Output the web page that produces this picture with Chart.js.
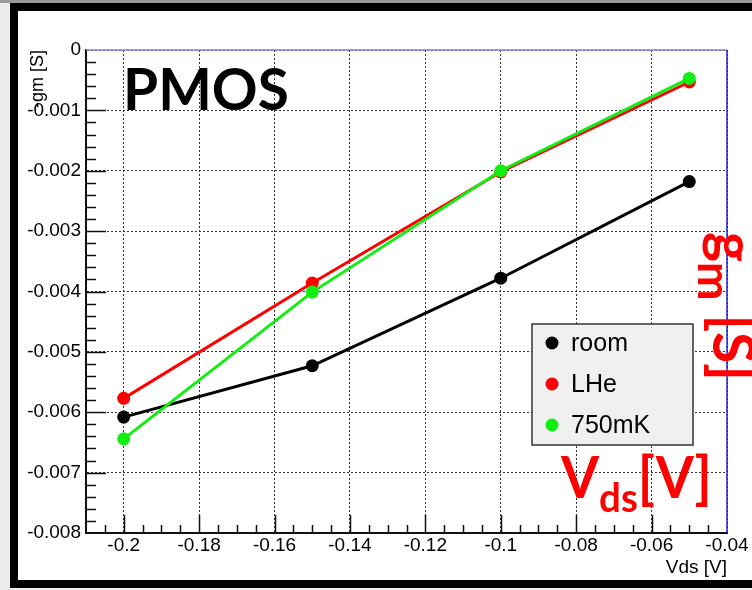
<!DOCTYPE html>
<html>
<head>
<meta charset="utf-8">
<title>PMOS gm vs Vds</title>
<script src="https://cdn.jsdelivr.net/npm/chart.js@4.4.1/dist/chart.umd.min.js"></script>
<style>
  html, body { margin: 0; padding: 0; background: #fff; }
  #wrap { position: relative; width: 752px; height: 590px; overflow: hidden; background: #ececec; }
  #shade { position: absolute; left: 0; top: 0; width: 752px; height: 3px; background: #9a9a9a; }
  #frame { position: absolute; left: 10px; top: 3px; width: 800px; height: 569px; border: 8px solid #000; background: #fff; }
  #plot { position: absolute; left: 0; top: 0; }
</style>
</head>
<body>
<div id="wrap">
  <div id="shade"></div>
  <div id="frame"></div>
  <canvas id="plot" width="752" height="590"></canvas>
</div>
<script>
// measured gm (S) at each drain voltage
const vds = [-0.2, -0.15, -0.1, -0.05];
const gmRoom = [-0.00608, -0.00523, -0.00378, -0.00218];
const gmLHe = [-0.00577, -0.00386, -0.00202, -0.00053];
const gm750mK = [-0.00644, -0.00401, -0.00200, -0.00047];

const seriesNames = ['room', 'LHe', '750mK'];
const seriesColors = ['#000000', '#ff0000', '#11ee11'];

const xTickValues = [-0.2, -0.18, -0.16, -0.14, -0.12, -0.1, -0.08, -0.06, -0.04];
const xTickLabels = ['-0.2', '-0.18', '-0.16', '-0.14', '-0.12', '-0.1', '-0.08', '-0.06', '-0.04'];
const yTickValues = [0, -0.001, -0.002, -0.003, -0.004, -0.005, -0.006, -0.007, -0.008];
const yTickLabels = ['0', '-0.001', '-0.002', '-0.003', '-0.004', '-0.005', '-0.006', '-0.007', '-0.008'];

const datasets = [gmRoom, gmLHe, gm750mK].map((vals, i) => ({
  label: seriesNames[i],
  data: vds.map((x, k) => ({ x: x, y: vals[k] })),
  showLine: true,
  borderColor: seriesColors[i],
  backgroundColor: seriesColors[i],
  pointBackgroundColor: seriesColors[i],
  pointBorderWidth: 0,
  pointRadius: 6.5,
  pointHoverRadius: 6.5,
  borderWidth: 3,
  order: 2 - i
}));

// draws a run of bold text pieces squeezed to a given ink width
function drawParts(ctx, parts, x, y, width) {
  let adv = 0, start = 0, end = 0;
  parts.forEach((p, i) => {
    ctx.font = 'bold ' + p.size + 'px Lato';
    const m = ctx.measureText(p.text);
    if (i === 0) start = -m.actualBoundingBoxLeft;
    if (i === parts.length - 1) end = adv + m.actualBoundingBoxRight;
    p.x = adv;
    adv += m.width;
  });
  const sx = width / (end - start);
  ctx.save();
  ctx.translate(x - start * sx, y);
  ctx.scale(sx, 1);
  parts.forEach(p => {
    ctx.font = 'bold ' + p.size + 'px Lato';
    ctx.fillText(p.text, p.x, p.dy || 0);
  });
  ctx.restore();
}

const axisDecor = {
  id: 'axisDecor',
  beforeDatasetsDraw(chart) {
    const { ctx, chartArea: a, scales: { x, y } } = chart;
    ctx.save();
    ctx.strokeStyle = '#111';
    ctx.lineWidth = 1.5;
    ctx.beginPath();
    // ticks along the bottom axis, pointing inward
    for (let k = -41; k <= -9; k++) {
      const px = Math.round(x.getPixelForValue(k * 0.005)) + 0.5;
      const len = k % 4 === 0 ? 18 : 8;
      ctx.moveTo(px, a.bottom);
      ctx.lineTo(px, a.bottom - len);
    }
    // ticks along the left axis
    for (let k = 1; k <= 39; k++) {
      const py = Math.round(y.getPixelForValue(-k * 0.0002)) + 0.5;
      const len = k % 5 === 0 ? 20 : 10;
      ctx.moveTo(a.left, py);
      ctx.lineTo(a.left + len, py);
    }
    ctx.stroke();

    // top and right edges of the frame
    ctx.lineWidth = 1.5;
    ctx.strokeStyle = '#8484cc';
    ctx.beginPath();
    ctx.moveTo(a.left, a.top);
    ctx.lineTo(a.right, a.top);
    ctx.stroke();
    ctx.strokeStyle = '#2020d8';
    ctx.beginPath();
    ctx.moveTo(a.right, a.top);
    ctx.lineTo(a.right, a.bottom);
    ctx.stroke();
    ctx.restore();
  },
  afterDraw(chart) {
    const ctx = chart.ctx;
    ctx.save();

    // legend box
    ctx.fillStyle = '#f0f0f0';
    ctx.fillRect(532, 324, 161, 121);
    ctx.strokeStyle = '#333';
    ctx.lineWidth = 1.5;
    ctx.strokeRect(532, 324, 161, 121);
    chart.data.datasets.forEach((ds, i) => {
      const cy = 343 + i * 41;
      ctx.fillStyle = ds.pointBackgroundColor;
      ctx.beginPath();
      ctx.arc(552, cy, 6.5, 0, Math.PI * 2);
      ctx.fill();
      ctx.fillStyle = '#000';
      ctx.font = '25px "Liberation Sans", Arial, sans-serif';
      ctx.textBaseline = 'alphabetic';
      ctx.fillText(ds.label, 571, cy + 8);
    });

    // big labels
    ctx.textBaseline = 'alphabetic';
    ctx.fillStyle = '#000';
    drawParts(ctx, [{ text: 'PMOS', size: 58 }], 127, 110, 160);

    ctx.fillStyle = '#ff0000';
    drawParts(ctx, [
      { text: 'V', size: 57 },
      { text: 'ds', size: 40, dy: 14 },
      { text: '[V]', size: 57 }
    ], 560, 498, 148);

    ctx.save();
    ctx.translate(713, 0);
    ctx.rotate(Math.PI / 2);
    drawParts(ctx, [
      { text: 'g', size: 57 },
      { text: 'm', size: 46, dy: 15 },
      { text: ' [S]', size: 57 }
    ], 233, 0, 144);
    ctx.restore();

    ctx.restore();
  }
};

new Chart(document.getElementById('plot'), {
  type: 'scatter',
  data: { datasets: datasets },
  options: {
    responsive: false,
    animation: false,
    devicePixelRatio: 1,
    layout: { padding: { left: 0, top: 50, right: 25, bottom: 0 } },
    plugins: {
      legend: { display: false },
      tooltip: { enabled: false }
    },
    events: [],
    scales: {
      x: {
        type: 'linear',
        min: -0.21,
        max: -0.04,
        afterBuildTicks: s => { s.ticks = xTickValues.map(v => ({ value: v })); },
        afterFit: s => { s.height = 57; },
        ticks: {
          color: '#000',
          padding: 1,
          maxRotation: 0,
          autoSkip: false,
          font: { family: '"Liberation Sans", Arial, sans-serif', size: 19 },
          callback: (v, i) => xTickLabels[i]
        },
        grid: { color: '#333', lineWidth: 1, drawTicks: false },
        border: { display: true, color: '#111', width: 2, dash: [2, 2] },
        title: {
          display: true,
          text: 'Vds [V]',
          align: 'end',
          color: '#000',
          padding: { top: 0, bottom: 10.6 },
          font: { family: '"Liberation Sans", Arial, sans-serif', size: 19 }
        }
      },
      y: {
        type: 'linear',
        min: -0.008,
        max: 0,
        afterBuildTicks: s => { s.ticks = yTickValues.map(v => ({ value: v })); },
        afterFit: s => { s.width = 86; },
        ticks: {
          color: '#000',
          padding: 5,
          autoSkip: false,
          font: { family: '"Liberation Sans", Arial, sans-serif', size: 19 },
          callback: (v, i) => yTickLabels[i]
        },
        grid: { color: '#333', lineWidth: 1, drawTicks: false },
        border: { display: true, color: '#111', width: 2, dash: [2, 2] },
        title: {
          display: true,
          text: '-gm [S]',
          align: 'end',
          color: '#000',
          padding: { top: 27, bottom: 0 },
          font: { family: '"Liberation Sans", Arial, sans-serif', size: 18 }
        }
      }
    }
  },
  plugins: [axisDecor]
});
</script>
</body>
</html>
